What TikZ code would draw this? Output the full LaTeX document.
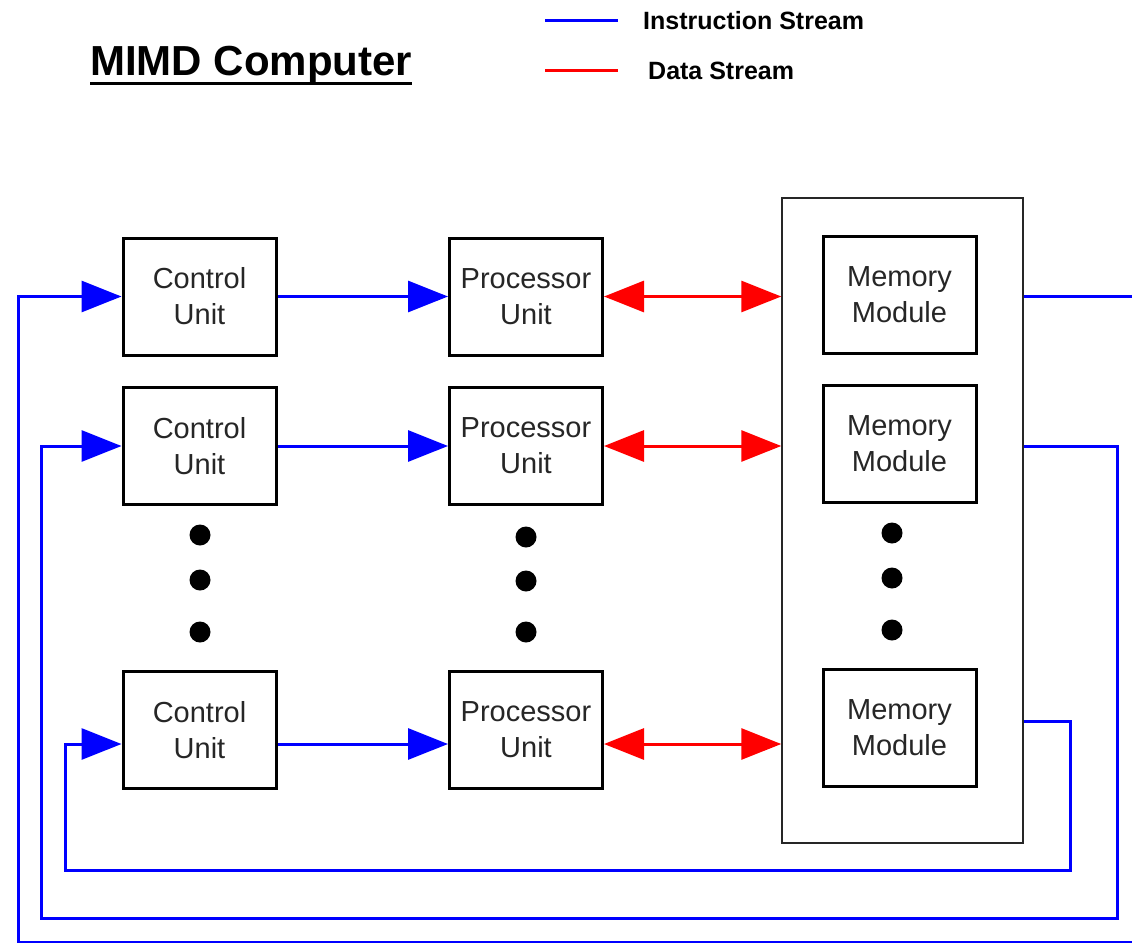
\documentclass[tikz,border=0pt]{standalone}
\usepackage{fontspec}
\setmainfont{Liberation Sans}
\usepackage{xcolor}
\usetikzlibrary{
    arrows.meta,
    positioning
}
\tikzset{unit/.style={draw=black, line width=3pt, minimum width=153pt, minimum height=117pt, inner sep=0pt, align=center, text=black!85, font=\fontsize{29}{36}\selectfont}}
\tikzset{istr/.style={draw=blue, line width=3pt, -{Triangle[length=40pt, width=31pt]}}}
\tikzset{iloop/.style={draw=blue, line width=3pt}}
\tikzset{dstr/.style={draw=red, line width=3pt, {Triangle[length=40pt, width=31pt]}-{Triangle[length=40pt, width=31pt]}}}
\tikzset{dot/.style={circle, fill=black, inner sep=0pt, minimum size=21pt}}

\begin{document}
\begin{tikzpicture}[x=1pt, y=-1pt]
                        \useasboundingbox (0, 0) rectangle (1132, 942);
                        \clip (0, 0) rectangle (1132, 942);
                        % title and legend
                        \node[anchor=base west, inner sep=0pt, font=\bfseries\fontsize{42}{46}\selectfont] (title) at (90, 75) {MIMD Computer};
                        \draw[line width=3pt] ([yshift=-8pt]title.base west) -- ([yshift=-8pt]title.base east);
                        \node[anchor=west, inner sep=0pt, font=\bfseries\fontsize{25}{28}\selectfont] (ilab) at (643, 21) {Instruction Stream};
                        \node[anchor=west, inner sep=0pt, font=\bfseries\fontsize{25}{28}\selectfont] (dlab) at (648, 71) {Data Stream};
                        \draw[blue, line width=3pt] (545, 21) -- (618, 21);
                        \draw[red, line width=3pt] (545, 71) -- (618, 71);
                        % units
                        \node[unit] (cu1) at (199.5, 296.5) {Control\\Unit};
                        \node[unit] (cu2) at (199.5, 446) {Control\\Unit};
                        \node[unit] (cu3) at (199.5, 730) {Control\\Unit};
                        \node[unit] (pu1) at (526, 296.5) {Processor\\Unit};
                        \node[unit] (pu2) at (526, 446) {Processor\\Unit};
                        \node[unit] (pu3) at (526, 730) {Processor\\Unit};
                        \node[draw=black!85, line width=1.5pt, minimum width=241pt, minimum height=645pt, inner sep=0pt] (mem) at (902.5, 520.5) {};
                        \node[unit] (mm1) at (899.5, 295) {Memory\\Module};
                        \node[unit] (mm2) at (899.5, 443.5) {Memory\\Module};
                        \node[unit] (mm3) at (899.5, 728) {Memory\\Module};
                        % dots
                        \node[dot] (c1) at (200, 535) {};
                        \node[dot] (c2) at (200, 580) {};
                        \node[dot] (c3) at (200, 632) {};
                        \node[dot] (p1) at (526, 537) {};
                        \node[dot] (p2) at (526, 581) {};
                        \node[dot] (p3) at (526, 632) {};
                        \node[dot] (m1) at (892, 533) {};
                        \node[dot] (m2) at (892, 578) {};
                        \node[dot] (m3) at (892, 630) {};
                        % instruction and data streams
                        \draw[istr] (cu1.east) -- (pu1.west);
                        \draw[istr] (cu2.east) -- (pu2.west);
                        \draw[istr] ([yshift=-14pt]cu3.east) -- ([yshift=-14pt]pu3.west);
                        \draw[dstr] (pu1.east) -- (pu1.east -| mem.west);
                        \draw[dstr] (pu2.east) -- (pu2.east -| mem.west);
                        \draw[dstr] ([yshift=-14pt]pu3.east) -- ([yshift=-14pt]pu3.east -| mem.west);
                        % loops back
                        \coordinate (out3) at (mem.east |- 0, 721);
                        \draw[iloop, -{Triangle[length=40pt, width=31pt]}]
                        (mem.east |- cu1) -| (1150, 942) -| (18, 296.5) -- (cu1.west);
                        \draw[iloop, -{Triangle[length=40pt, width=31pt]}]
                        (mem.east |- cu2) -| (1117, 918) -| (41, 446) -- (cu2.west);
                        \draw[iloop, -{Triangle[length=40pt, width=31pt]}]
                        (out3) -| (1070, 870) -| (65, 744) -- ([yshift=-14pt]cu3.west);
                    \end{tikzpicture}
\end{document}
